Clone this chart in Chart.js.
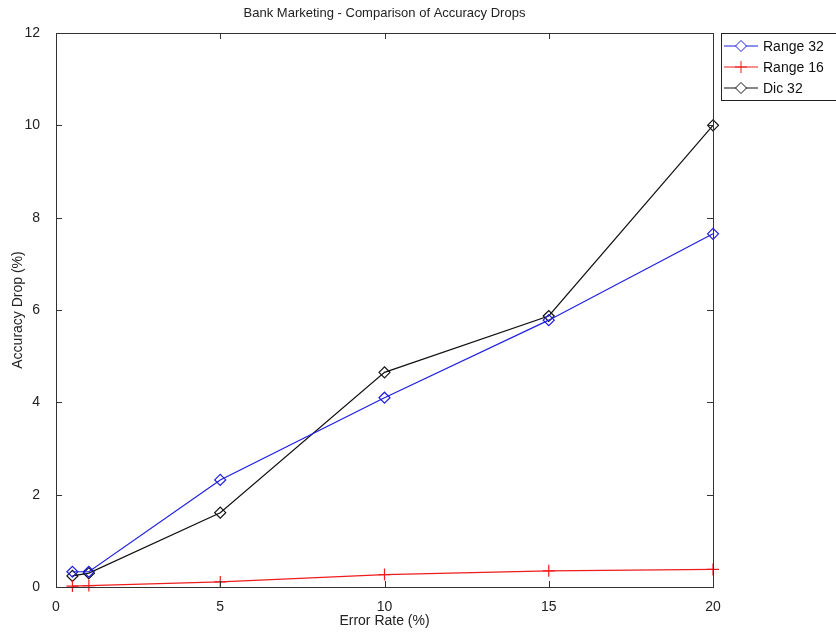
<!DOCTYPE html>
<html>
<head>
<meta charset="utf-8">
<script src="https://cdn.jsdelivr.net/npm/chart.js@4.4.1/dist/chart.umd.min.js"></script>
<style>
  html, body { margin: 0; padding: 0; background: #fff; }
  #wrap { width: 836px; height: 639px; position: relative; }
</style>
</head>
<body>
<div id="wrap"><canvas id="accChart"></canvas></div>
<script>
// data
const errorRates = [0.5, 1, 5, 10, 15, 20];
const range32 = [0.33, 0.33, 2.32, 4.10, 5.78, 7.65];
const range16 = [0.02, 0.03, 0.11, 0.27, 0.35, 0.38];
const dic32 = [0.24, 0.30, 1.61, 4.65, 5.87, 10.0];
const xTicks = [0, 5, 10, 15, 20];
const yTicks = [0, 2, 4, 6, 8, 10, 12];
const seriesNames = ['Range 32', 'Range 16', 'Dic 32'];

const FONT = '"Liberation Sans", Arial, sans-serif';
const pts = (ys) => errorRates.map((x, i) => ({ x, y: ys[i] }));

// box, inward ticks, title, axis titles, legend
const matlabFrame = {
    id: 'matlabFrame',
    afterDraw: (chart) => {
        const ctx = chart.ctx;
        const { left, right, top, bottom } = chart.chartArea;
        const xs = chart.scales.x, ys = chart.scales.y;
        ctx.save();
        ctx.strokeStyle = '#333';
        ctx.lineWidth = 1;
        ctx.strokeRect(Math.round(left) + 0.5, Math.round(top) + 0.5, Math.round(right - left), Math.round(bottom - top));
        ctx.beginPath();
        xTicks.forEach(v => {
            const px = Math.round(xs.getPixelForValue(v)) + 0.5;
            ctx.moveTo(px, bottom); ctx.lineTo(px, bottom - 6);
            ctx.moveTo(px, top); ctx.lineTo(px, top + 6);
        });
        yTicks.forEach(v => {
            const py = Math.round(ys.getPixelForValue(v)) + 0.5;
            ctx.moveTo(left, py); ctx.lineTo(left + 6, py);
            ctx.moveTo(right, py); ctx.lineTo(right - 6, py);
        });
        ctx.stroke();

        ctx.fillStyle = '#222';
        ctx.font = '13px ' + FONT;
        ctx.textAlign = 'center';
        ctx.textBaseline = 'middle';
        ctx.fillText('Bank Marketing - Comparison of Accuracy Drops', (left + right) / 2, 13);
        ctx.font = '14px ' + FONT;
        ctx.fillText('Error Rate (%)', (left + right) / 2, 621);
        ctx.save();
        ctx.translate(18, (top + bottom) / 2);
        ctx.rotate(-Math.PI / 2);
        ctx.fillText('Accuracy Drop (%)', 0, 0);
        ctx.restore();

        // legend
        const lx = 721, ly = 33;
        ctx.fillStyle = '#fff';
        ctx.fillRect(lx, ly, 130, 67);
        ctx.strokeStyle = '#222';
        ctx.strokeRect(lx + 0.5, ly + 0.5, 130, 67);
        chart.data.datasets.forEach((ds, i) => {
            const cy = ly + 13 + i * 21;
            ctx.strokeStyle = ds.borderColor;
            ctx.lineWidth = 1;
            ctx.beginPath();
            ctx.moveTo(lx + 3, cy); ctx.lineTo(lx + 37, cy);
            ctx.stroke();
            ctx.fillStyle = '#fff';
            Chart.helpers.drawPoint(ctx, {
                pointStyle: ds.pointStyle, radius: ds.pointRadius, borderWidth: 1
            }, lx + 20, cy);
            ctx.fillStyle = '#111';
            ctx.textAlign = 'left';
            ctx.font = '14px ' + FONT;
            ctx.fillText(ds.label, lx + 42, cy + 1);
        });
        ctx.restore();
    }
};

new Chart(document.getElementById('accChart'), {
    type: 'line',
    data: {
        datasets: [
            { label: seriesNames[0], data: pts(range32), borderColor: '#1f1fe0', pointStyle: 'rectRot', pointRadius: 5.5, pointBackgroundColor: 'rgba(0,0,0,0)', pointBorderColor: '#1f1fe0' },
            { label: seriesNames[1], data: pts(range16), borderColor: '#ee1c1c', pointStyle: 'cross', pointRadius: 6, pointBorderColor: '#ee1c1c' },
            { label: seriesNames[2], data: pts(dic32), borderColor: '#111', pointStyle: 'rectRot', pointRadius: 5.5, pointBackgroundColor: 'rgba(0,0,0,0)', pointBorderColor: '#111' }
        ]
    },
    options: {
        responsive: true,
        maintainAspectRatio: false,
        animation: false,
        clip: false,
        layout: { padding: { top: 33, right: 123, left: 0, bottom: 0 } },
        elements: { line: { borderWidth: 1.2, tension: 0 }, point: { borderWidth: 1.2, hoverRadius: 5.5 } },
        plugins: { legend: { display: false }, tooltip: { enabled: false } },
        scales: {
            x: {
                type: 'linear', min: 0, max: 20,
                afterFit: (s) => { s.height = 52; },
                afterBuildTicks: (s) => { s.ticks = xTicks.map(v => ({ value: v })); },
                grid: { display: false },
                border: { display: false },
                ticks: { color: '#222', font: { family: FONT, size: 14 }, padding: 4, maxRotation: 0 }
            },
            y: {
                min: 0, max: 12,
                afterFit: (s) => { s.width = 56; },
                afterBuildTicks: (s) => { s.ticks = yTicks.map(v => ({ value: v })); },
                grid: { display: false },
                border: { display: false },
                ticks: { color: '#222', font: { family: FONT, size: 14 }, padding: 8 }
            }
        }
    },
    plugins: [matlabFrame]
});
</script>
</body>
</html>
